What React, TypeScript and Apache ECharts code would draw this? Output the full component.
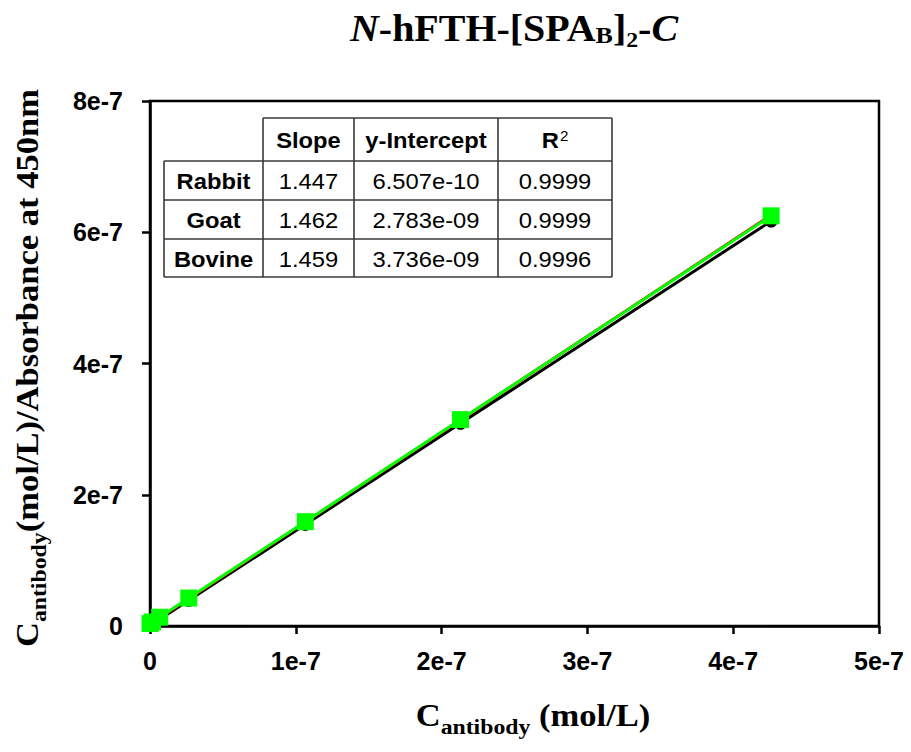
import React, { useEffect, useRef } from "react";
import * as echarts from "echarts";

// ---- data ----
const xValues = [0, 1.66e-9, 6.66e-9, 2.66e-8, 1.065e-7, 2.13e-7, 4.26e-7];
const rabbitY = [1.0e-9, 3.1e-9, 1.03e-8, 3.92e-8, 1.547e-7, 3.088e-7, 6.17e-7];
const goatY = [2.8e-9, 5.2e-9, 1.25e-8, 4.17e-8, 1.585e-7, 3.14e-7, 6.26e-7];
const bovineY = [3.7e-9, 6.1e-9, 1.34e-8, 4.26e-8, 1.59e-7, 3.145e-7, 6.25e-7];

const xTickLabels = ["0", "1e-7", "2e-7", "3e-7", "4e-7", "5e-7"];
const yTickLabels = ["0", "2e-7", "4e-7", "6e-7", "8e-7"];

const tableHeader = ["", "Slope", "y-Intercept", "R{sup|2}"];
const tableNames = ["Rabbit", "Goat", "Bovine"];
const tableSlopes = ["1.447", "1.462", "1.459"];
const tableIntercepts = ["6.507e-10", "2.783e-09", "3.736e-09"];
const tableR2 = ["0.9999", "0.9999", "0.9996"];

export default function App() {
  const ref = useRef<HTMLDivElement>(null);

  useEffect(() => {
    if (!ref.current) return;
    const chart = echarts.init(ref.current, null, { renderer: "svg" });

    const serif = "'Liberation Serif', 'Times New Roman', serif";
    const sans = "'Liberation Sans', Arial, sans-serif";

    // table geometry
    const colX = [164, 263, 354, 498, 612];
    const rowY = [118, 161, 200, 239, 277];
    const tableChildren: any[] = [];
    const lineStyle = { stroke: "#3a3a3a", lineWidth: 1.6 };
    tableChildren.push({ type: "line", shape: { x1: colX[1], y1: rowY[0], x2: colX[4], y2: rowY[0] }, style: lineStyle });
    for (let r = 1; r < rowY.length; r++) {
      tableChildren.push({ type: "line", shape: { x1: colX[0], y1: rowY[r], x2: colX[4], y2: rowY[r] }, style: lineStyle });
    }
    tableChildren.push({ type: "line", shape: { x1: colX[0], y1: rowY[1], x2: colX[0], y2: rowY[4] }, style: lineStyle });
    for (let c = 1; c < colX.length; c++) {
      tableChildren.push({ type: "line", shape: { x1: colX[c], y1: rowY[0], x2: colX[c], y2: rowY[4] }, style: lineStyle });
    }
    const cellText = (text: string, c: number, r: number, bold: boolean) => ({
      type: "text",
      x: (colX[c] + colX[c + 1]) / 2,
      y: (rowY[r] + rowY[r + 1]) / 2 + 1,
      scaleX: 1.08,
      style: {
        text,
        fill: "#000",
        font: `${bold ? "bold " : ""}22px ${sans}`,
        align: "center",
        verticalAlign: "middle",
        rich: {
          sup: { fontSize: 14, fontWeight: "normal", fontFamily: sans, verticalAlign: "top", lineHeight: 22, padding: [0, 0, 12, 1] },
        },
      },
    });
    tableHeader.forEach((h, c) => {
      if (h) tableChildren.push(cellText(h, c, 0, true));
    });
    tableNames.forEach((n, i) => {
      tableChildren.push(cellText(n, 0, i + 1, true));
      tableChildren.push(cellText(tableSlopes[i], 1, i + 1, false));
      tableChildren.push(cellText(tableIntercepts[i], 2, i + 1, false));
      tableChildren.push(cellText(tableR2[i], 3, i + 1, false));
    });

    const titleRich = {
      i: { fontFamily: serif, fontStyle: "italic", fontWeight: "bold", fontSize: 37, lineHeight: 37, verticalAlign: "bottom", padding: [0, 0, 6, 0] },
      b: { fontFamily: serif, fontWeight: "bold", fontSize: 37, lineHeight: 37, verticalAlign: "bottom", padding: [0, 0, 6, 0] },
      s: { fontFamily: serif, fontWeight: "bold", fontSize: 24, lineHeight: 24, verticalAlign: "bottom", padding: [0, 0, 6, 0] },
      s2: { fontFamily: serif, fontWeight: "bold", fontSize: 22, lineHeight: 22, verticalAlign: "bottom", padding: [0, 0, 2, 0] },
    };
    const axisTitleRich = {
      m: { fontFamily: serif, fontWeight: "bold", fontSize: 32, lineHeight: 32, verticalAlign: "bottom", padding: [0, 0, 7, 0] },
      s: { fontFamily: serif, fontWeight: "bold", fontSize: 22, lineHeight: 22, verticalAlign: "bottom", padding: [0, 0, 0, 0] },
    };

    const option: any = {
      animation: false,
      backgroundColor: "#fff",
      grid: {
        left: 150,
        right: 32,
        top: 101,
        bottom: 126,
        show: true,
        borderColor: "#000",
        borderWidth: 2.5,
        backgroundColor: "transparent",
      },
      xAxis: {
        type: "value",
        min: 0,
        max: 5e-7,
        interval: 1e-7,
        splitLine: { show: false },
        axisLine: { show: true, lineStyle: { color: "#000", width: 2.5 } },
        axisTick: { show: true, inside: false, length: 8, lineStyle: { color: "#000", width: 2.5 } },
        axisLabel: {
          margin: 22,
          color: "#000",
          fontFamily: sans,
          fontWeight: "bold",
          fontSize: 25,
          formatter: (_v: number, i: number) => xTickLabels[i],
        },
      },
      yAxis: {
        type: "value",
        min: 0,
        max: 8e-7,
        interval: 2e-7,
        splitLine: { show: false },
        axisLine: { show: true, lineStyle: { color: "#000", width: 2.5 } },
        axisTick: { show: true, inside: false, length: 8, lineStyle: { color: "#000", width: 2.5 } },
        axisLabel: {
          margin: 27,
          color: "#000",
          fontFamily: sans,
          fontWeight: "bold",
          fontSize: 25,
          formatter: (_v: number, i: number) => yTickLabels[i],
        },
      },
      series: [
        {
          name: "Rabbit",
          type: "line",
          data: xValues.map((x, i) => [x, rabbitY[i]]),
          symbol: "circle",
          symbolSize: 13,
          lineStyle: { color: "#000", width: 3 },
          itemStyle: { color: "#000" },
          z: 2,
        },
        {
          name: "Goat",
          type: "line",
          data: xValues.map((x, i) => [x, goatY[i]]),
          symbol: "circle",
          symbolSize: 13,
          lineStyle: { color: "#ff0000", width: 3 },
          itemStyle: { color: "#ff0000" },
          z: 3,
        },
        {
          name: "Bovine",
          type: "line",
          data: xValues.map((x, i) => [x, bovineY[i]]),
          symbol: "rect",
          symbolSize: 17,
          lineStyle: { color: "#00ff00", width: 3 },
          itemStyle: { color: "#00ff00" },
          z: 4,
        },
      ],
      graphic: [
        {
          type: "text",
          x: 514,
          y: 34,
          scaleX: 1.08,
          style: {
            text: "{i|N}{b|-hFTH-[SPA}{s|B}{b|]}{s2|2}{b|-}{i|C}",
            rich: titleRich,
            align: "center",
            verticalAlign: "middle",
            fill: "#000",
          },
        },
        {
          type: "text",
          x: 533,
          y: 722,
          scaleX: 1.08,
          style: {
            text: "{m|C}{s|antibody}{m| (mol/L)}",
            rich: axisTitleRich,
            align: "center",
            verticalAlign: "middle",
            fill: "#000",
          },
        },
        {
          type: "text",
          x: 34,
          y: 368,
          rotation: Math.PI / 2,
          scaleX: 1.08,
          style: {
            text: "{m|C}{s|antibody}{m|(mol/L)/Absorbance at 450nm}",
            rich: axisTitleRich,
            align: "center",
            verticalAlign: "middle",
            fill: "#000",
          },
        },
        {
          type: "group",
          children: tableChildren,
        },
      ],
    };

    chart.setOption(option);
    return () => chart.dispose();
  }, []);

  return (
    <div
      ref={ref}
      style={{ position: "fixed", left: 0, top: 0, width: 911, height: 752, background: "#fff" }}
    />
  );
}
